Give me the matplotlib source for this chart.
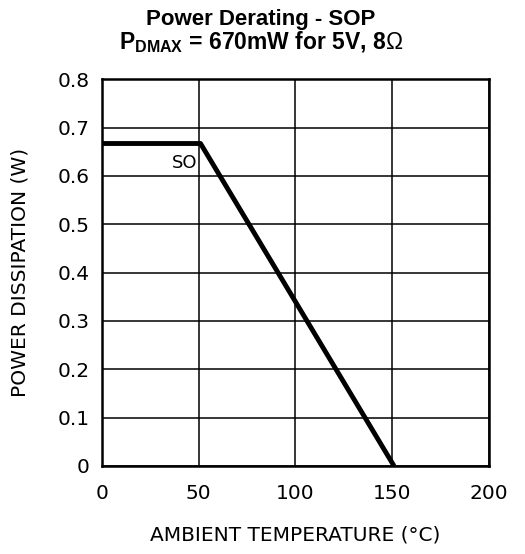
import matplotlib; matplotlib.use('Agg')
import matplotlib.pyplot as plt

# derating curve (ambient temp in C, power in W)
temp  = [0, 51, 151]
power = [0.667, 0.667, 0.0]

xticks = [0, 50, 100, 150, 200]
yticks = [0, 0.1, 0.2, 0.3, 0.4, 0.5, 0.6, 0.7, 0.8]
ylabels = ['0', '0.1', '0.2', '0.3', '0.4', '0.5', '0.6', '0.7', '0.8']

plt.rcParams['mathtext.fontset'] = 'custom'
plt.rcParams['mathtext.rm'] = 'Liberation Sans'
plt.rcParams['mathtext.bf'] = 'Liberation Sans:bold'

lab_font = dict(family='DejaVu Sans')

fig = plt.figure(figsize=(5.25, 5.54), dpi=100)
ax = fig.add_axes([0.194, 0.159, 0.737, 0.698])

ax.plot(temp, power, color='black', linewidth=3.5, solid_capstyle='butt', zorder=3)
ax.text(43, 0.626, 'SO', ha='center', va='center', fontsize=13, **lab_font)

ax.set_xlim(0, 200)
ax.set_ylim(0, 0.8)
ax.set_xticks(xticks)
ax.set_yticks(yticks)
ax.set_yticklabels(ylabels)
ax.grid(True, color='black', linewidth=1.1)
ax.tick_params(length=0, labelsize=14.5)
ax.tick_params(axis='x', pad=13)
ax.tick_params(axis='y', pad=9)
for s in ax.spines.values():
    s.set_linewidth(1.8)

ax.set_xlabel('AMBIENT TEMPERATURE (°C)', fontsize=14.5, labelpad=16, **lab_font)
ax.set_ylabel('POWER DISSIPATION (W)', fontsize=14.5, labelpad=20, **lab_font)

fig.text(0.497, 0.965, 'Power Derating - SOP', ha='center', va='center',
         fontsize=16, fontweight='bold', family='Liberation Sans')
fig.text(0.497, 0.924, r'P$_{\mathbf{DMAX}}$ = 670mW for 5V, 8$\Omega$', ha='center', va='center',
         fontsize=16.5, fontweight='bold', family='Liberation Sans')

fig.savefig('out.png', dpi=100, facecolor='white')
